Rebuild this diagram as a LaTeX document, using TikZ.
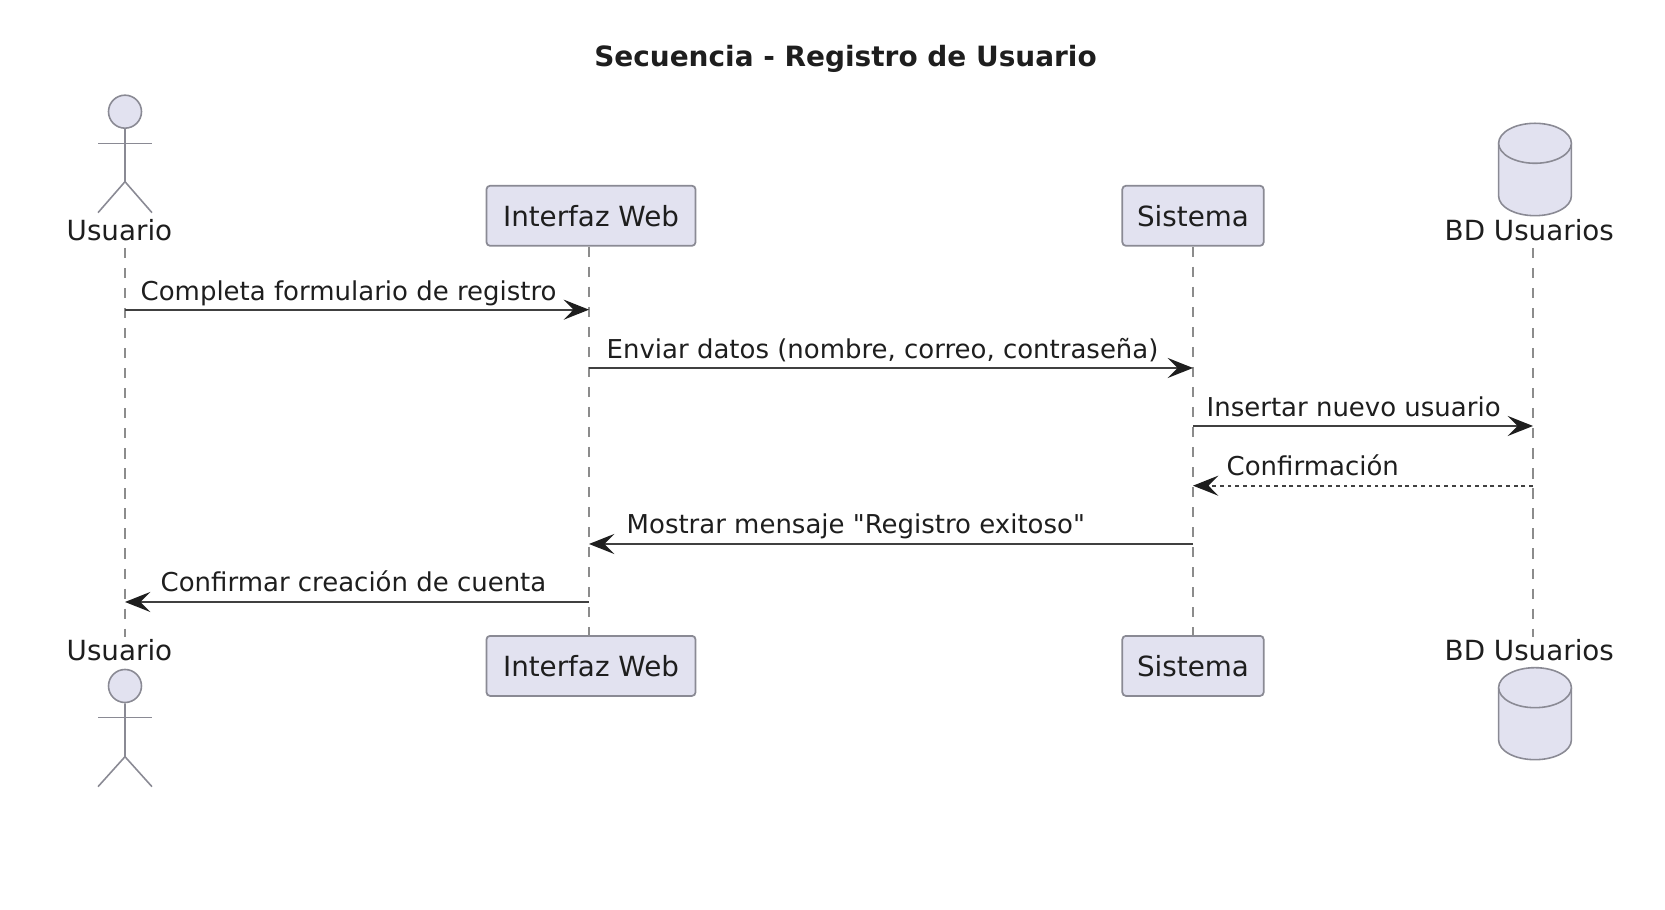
\documentclass[tikz,border=0pt]{standalone}
\usepackage{fontspec}
\setmainfont{DejaVu Sans}
\newfontfamily\msgfont{DejaVu Sans}
\usetikzlibrary{arrows.meta}
\definecolor{partfill}{HTML}{E2E2F0}
\definecolor{partline}{HTML}{8A8A94}
\definecolor{ink}{HTML}{1E1E1E}
\tikzstyle{every node}=[font=\fontsize{7.9}{9.5}\selectfont,text=ink]
\tikzstyle{participant}=[rectangle,draw=partline,fill=partfill,line width=0.5pt,rounded corners=1pt,minimum height=0.6cm,inner sep=0pt]
\tikzstyle{head}=[circle,draw=partline,fill=partfill,line width=0.45pt,minimum size=0.33cm,inner sep=0pt]
\tikzstyle{figure}=[draw=partline,line width=0.45pt]
\tikzstyle{database}=[draw=partline,fill=partfill,line width=0.45pt]
\tikzstyle{lifeline}=[draw=black!45,line width=0.35pt,dash pattern=on 2.9pt off 2.8pt]
\tikzstyle{message}=[draw=ink!85,line width=0.6pt,-{Stealth[length=7.2pt,width=5.7pt,inset=2.8pt,color=ink]}]
\tikzstyle{reply}=[draw=ink!85,line width=0.5pt,dash pattern=on 1.1pt off 1.1pt,-{Stealth[length=7.2pt,width=5.7pt,inset=2.8pt,color=ink]}]
\tikzstyle{caption}=[anchor=base west,inner sep=0pt]
\tikzstyle{msgtext}=[anchor=base west,inner sep=0pt,font=\msgfont\fontsize{7.39}{9}\selectfont]

\begin{document}
\begin{tikzpicture}
                    \useasboundingbox (0,0) rectangle (16.65,9.10);
                    \node (title) at (8.455,8.433) [anchor=base,inner sep=0pt,font=\fontsize{7.95}{9.5}\selectfont\bfseries] {Secuencia - Registro de Usuario};

                    % top row
                    \node (uname) at (0.66,6.69) [caption] {Usuario};
                    \node (web) at (5.91,6.942) [participant,minimum width=2.09cm] {Interfaz Web};
                    \node (sis) at (11.93,6.942) [participant,minimum width=1.413cm] {Sistema};
                    \node (dname) at (14.44,6.69) [caption] {BD Usuarios};

                    % bottom row
                    \node (unameb) at (0.66,2.49) [caption] {Usuario};
                    \node (webb) at (5.91,2.441) [participant,minimum width=2.09cm] {Interfaz Web};
                    \node (sisb) at (11.93,2.441) [participant,minimum width=1.413cm] {Sistema};
                    \node (dnameb) at (14.44,2.49) [caption] {BD Usuarios};

                    % actors
                    \node (uhead) at (1.25,7.983) [head] {};
                    \draw [figure] (uhead) -- (1.25,7.283) -- (0.98,6.973);
                    \draw [figure] (1.25,7.283) -- (1.52,6.973);
                    \draw [figure] (0.98,7.663) -- (1.52,7.663);
                    \node (uheadb) at (1.25,2.24) [head] {};
                    \draw [figure] (uheadb) -- (1.25,1.533) -- (0.98,1.233);
                    \draw [figure] (1.25,1.533) -- (1.52,1.233);
                    \draw [figure] (0.98,1.923) -- (1.52,1.923);

                    % databases
                    \draw [database] (14.986,7.667) -- (14.986,7.14) arc [start angle=180,end angle=360,x radius=0.364,y radius=0.197] -- (15.714,7.667);
                    \draw [database] (15.35,7.667) ellipse [x radius=0.364,y radius=0.2];
                    \draw [database] (14.986,2.223) -- (14.986,1.70) arc [start angle=180,end angle=360,x radius=0.364,y radius=0.197] -- (15.714,2.223);
                    \draw [database] (15.35,2.223) ellipse [x radius=0.364,y radius=0.2];

                    % lifelines
                    \coordinate (ut) at (1.25,6.62);
                    \coordinate (ub) at (1.25,2.73);
                    \coordinate (dt) at (15.33,6.62);
                    \coordinate (db) at (15.33,2.73);
                    \draw [lifeline] (ut) -- (ub);
                    \draw [lifeline] ([xshift=-0.02cm]web.south) -- ([xshift=-0.02cm]webb.north);
                    \draw [lifeline] (sis.south) -- (sisb.north);
                    \draw [lifeline] (dt) -- (db);

                    % messages
                    \coordinate (u1) at (1.25,6.003);
                    \coordinate (w1) at (5.89,6.003);
                    \coordinate (w2) at (5.89,5.42);
                    \coordinate (s2) at (11.93,5.42);
                    \coordinate (s3) at (11.93,4.84);
                    \coordinate (d3) at (15.33,4.84);
                    \coordinate (d4) at (15.33,4.243);
                    \coordinate (s4) at (11.93,4.243);
                    \coordinate (s5) at (11.93,3.66);
                    \coordinate (w5) at (5.89,3.66);
                    \coordinate (w6) at (5.89,3.08);
                    \coordinate (u6) at (1.25,3.08);

                    \draw [message] (u1) -- (w1);
                    \draw [message] (w2) -- (s2);
                    \draw [message] (s3) -- (d3);
                    \draw [reply] (d4) -- (s4);
                    \draw [message] (s5) -- (w5);
                    \draw [message] (w6) -- (u6);

                    \node (t1) at (1.40,6.093) [msgtext] {Completa formulario de registro};
                    \node (t2) at (6.06,5.51) [msgtext] {Enviar datos (nombre, correo, contraseña)};
                    \node (t3) at (12.06,4.93) [msgtext] {Insertar nuevo usuario};
                    \node (t4) at (12.26,4.343) [msgtext] {Confirmación};
                    \node (t5) at (6.26,3.76) [msgtext] {Mostrar mensaje "Registro exitoso"};
                    \node (t6) at (1.60,3.18) [msgtext] {Confirmar creación de cuenta};
                \end{tikzpicture}
\end{document}
